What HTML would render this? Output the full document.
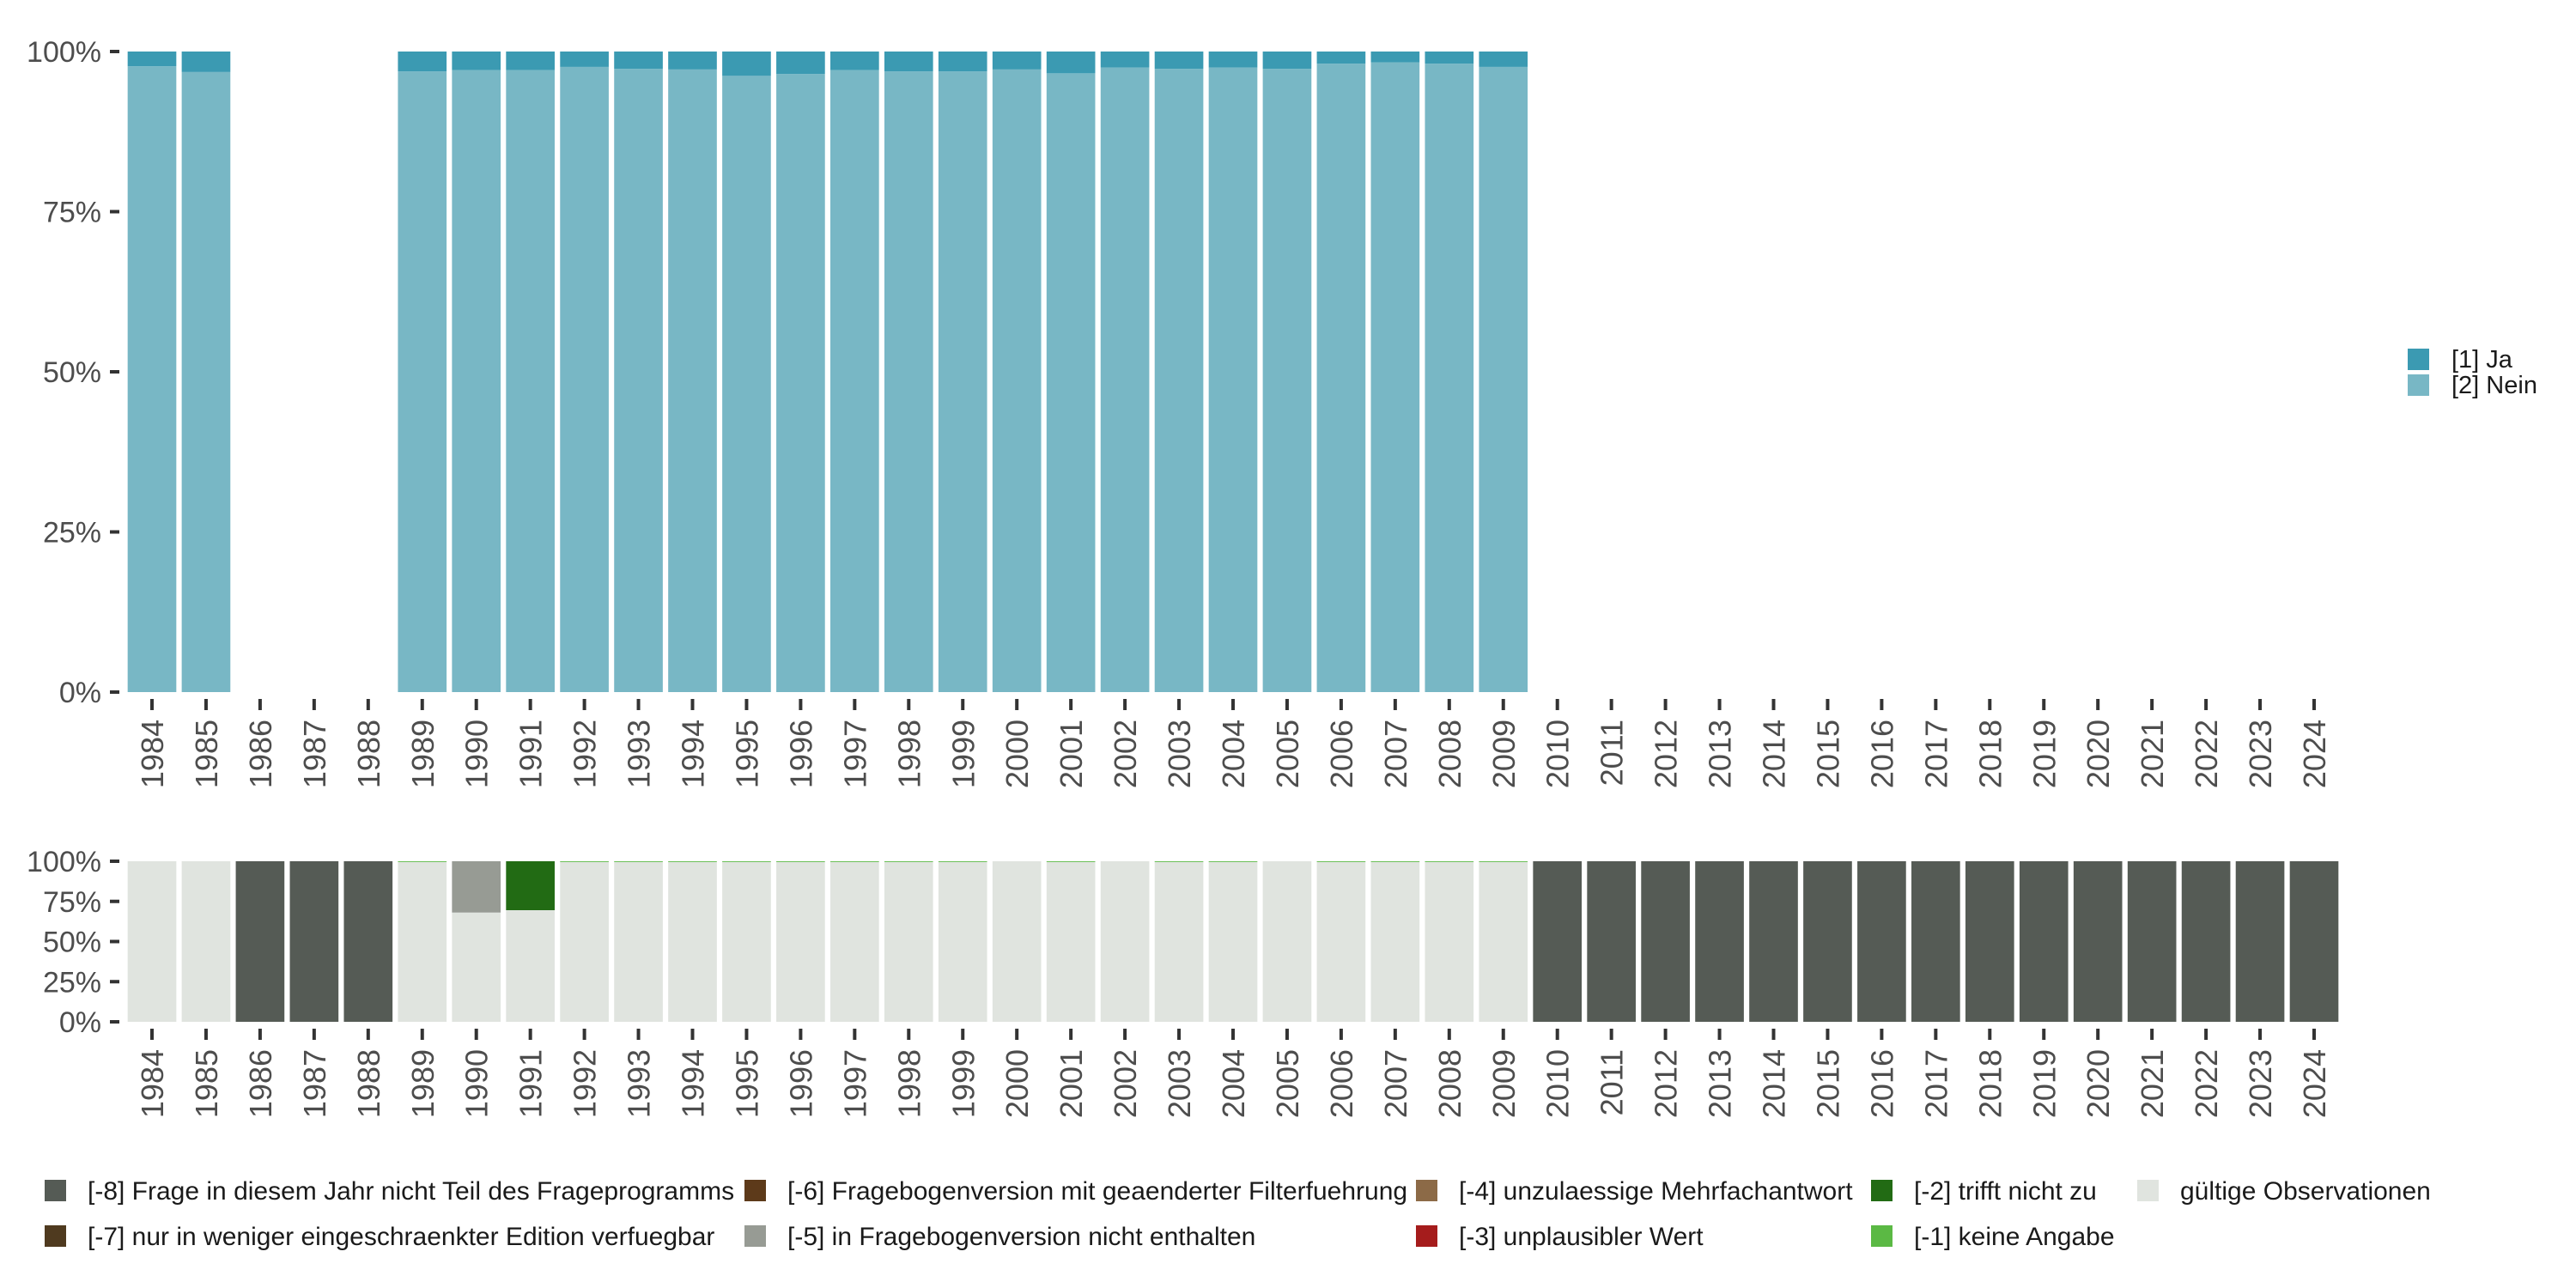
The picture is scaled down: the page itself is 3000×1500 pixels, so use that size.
<!DOCTYPE html>
<html><head><meta charset="utf-8"><style>
html,body{margin:0;padding:0;background:#fff;width:3000px;height:1500px;overflow:hidden}
svg text{font-family:"Liberation Sans","DejaVu Sans",sans-serif}
</style></head><body>
<svg id="chart" width="3000" height="1500" xmlns="http://www.w3.org/2000/svg"></svg>
<script>
const years = [1984,1985,1986,1987,1988,1989,1990,1991,1992,1993,1994,1995,1996,1997,1998,1999,2000,2001,2002,2003,2004,2005,2006,2007,2008,2009,2010,2011,2012,2013,2014,2015,2016,2017,2018,2019,2020,2021,2022,2023,2024];
// top panel: share Ja (%) ; null = no data
const jaShare = [2.3,3.2,null,null,null,3.1,2.9,2.9,2.4,2.7,2.8,3.8,3.5,2.9,3.1,3.1,2.8,3.4,2.5,2.7,2.5,2.7,1.9,1.7,1.9,2.4,null,null,null,null,null,null,null,null,null,null,null,null,null,null,null];
// bottom panel shares (%)
const notInProgram = [0,0,100,100,100,0,0,0,0,0,0,0,0,0,0,0,0,0,0,0,0,0,0,0,0,0,100,100,100,100,100,100,100,100,100,100,100,100,100,100,100];
const notInVersion = [0,0,0,0,0,0,32,0,0,0,0,0,0,0,0,0,0,0,0,0,0,0,0,0,0,0,0,0,0,0,0,0,0,0,0,0,0,0,0,0,0];
const notApplicable = [0,0,0,0,0,0,0,30.5,0,0,0,0,0,0,0,0,0,0,0,0,0,0,0,0,0,0,0,0,0,0,0,0,0,0,0,0,0,0,0,0,0];
const noAnswer = [0,0,0,0,0,0.5,0,0,0.5,0.5,0.5,0.5,0.5,0.5,0.5,0.5,0,0.5,0,0.5,0.5,0,0.5,0.5,0.5,0.5,0,0,0,0,0,0,0,0,0,0,0,0,0,0,0];
const yTicks = [0,25,50,75,100];
const yTickLabels = ["0%","25%","50%","75%","100%"];

const svg = document.getElementById('chart');
const NS = 'http://www.w3.org/2000/svg';
function mk(tag, attrs, parent){const e=document.createElementNS(NS,tag);for(const k in attrs)e.setAttribute(k,attrs[k]);(parent||svg).appendChild(e);return e;}

const x0 = 177, step = 62.95, bw = step*0.9;
function xc(i){return x0 + i*step;}
const topP = {t:60, b:806};
const botP = {t:1003, b:1190};
function yS(p,v){return p.b - (p.b-p.t)*v/100;}

function axes(p, name){
  yTicks.forEach((t,i)=>{
    const y = yS(p,t);
    const tk = mk('line',{x1:128,x2:139,y1:y,y2:y,stroke:'#333','stroke-width':4});
    
    
    const tx = mk('text',{x:118,y:y+12,'text-anchor':'end','font-size':34,fill:'#4d4d4d'});
    tx.textContent = yTickLabels[i];
    
    
  });
  years.forEach((yr,i)=>{
    const x = xc(i);
    const tk = mk('line',{x1:x,x2:x,y1:p.b+8,y2:p.b+21,stroke:'#333','stroke-width':4});
    
    
    const tx = mk('text',{x:0,y:0,'text-anchor':'end','font-size':36,fill:'#4d4d4d',transform:`translate(${x+13},${p.b+32}) rotate(-90)`});
    tx.textContent = yr;
    
    
  });
}

// top bars
years.forEach((yr,i)=>{
  const ja = jaShare[i];
  if(ja===null) return;
  const x = xc(i)-bw/2;
  const n = mk('rect',{x:x,y:yS(topP,100-ja),width:bw,height:yS(topP,0)-yS(topP,100-ja),fill:'#78b7c5'});
  
  
  const j = mk('rect',{x:x,y:yS(topP,100),width:bw,height:yS(topP,100-ja)-yS(topP,100),fill:'#3b9ab2'});
  
  
});
axes(topP,'top');

// bottom bars: stacked from top: -8, -5, -2, -1 then valid
years.forEach((yr,i)=>{
  const x = xc(i)-bw/2;
  const segs = [[notInProgram[i],'#555b55','missing-8'],[notInVersion[i],'#979b94','missing-5'],[notApplicable[i],'#226b14','missing-2'],[noAnswer[i],'#5bb944','missing-1']];
  let acc = 100;
  segs.forEach(s=>{
    if(s[0]<=0) return;
    const r = mk('rect',{x:x,y:yS(botP,acc),width:bw,height:yS(botP,acc-s[0])-yS(botP,acc),fill:s[1]});
    
    
    acc -= s[0];
  });
  if(acc>0){
    const r = mk('rect',{x:x,y:yS(botP,acc),width:bw,height:yS(botP,0)-yS(botP,acc),fill:'#e0e4df'});
    
    
  }
});
axes(botP,'bottom');

// right legend
[['[1] Ja','#3b9ab2',406],['[2] Nein','#78b7c5',436]].forEach(l=>{
  const r = mk('rect',{x:2804,y:l[2],width:25,height:25,fill:l[1]});
  
  
  const t = mk('text',{x:2855,y:l[2]+22,'font-size':29,fill:'#1a1a1a'});
  t.textContent = l[0];
  
  
});

// bottom legend
const legItems = [
 ['[-8] Frage in diesem Jahr nicht Teil des Frageprogramms','#555b55',52,1374],
 ['[-7] nur in weniger eingeschraenkter Edition verfuegbar','#4f3a1f',52,1427],
 ['[-6] Fragebogenversion mit geaenderter Filterfuehrung','#5d3a1a',867,1374],
 ['[-5] in Fragebogenversion nicht enthalten','#979b94',867,1427],
 ['[-4] unzulaessige Mehrfachantwort','#8c6a47',1649,1374],
 ['[-3] unplausibler Wert','#a51c1c',1649,1427],
 ['[-2] trifft nicht zu','#226b14',2179,1374],
 ['[-1] keine Angabe','#5bb944',2179,1427],
 ['gültige Observationen','#e0e4df',2489,1374]
];
legItems.forEach(l=>{
  const r = mk('rect',{x:l[2],y:l[3],width:25,height:25,fill:l[1]});
  
  
  const t = mk('text',{x:l[2]+50,y:l[3]+23,'font-size':30,fill:'#1a1a1a'});
  t.textContent = l[0];
  
  
});
</script>
</body></html>
